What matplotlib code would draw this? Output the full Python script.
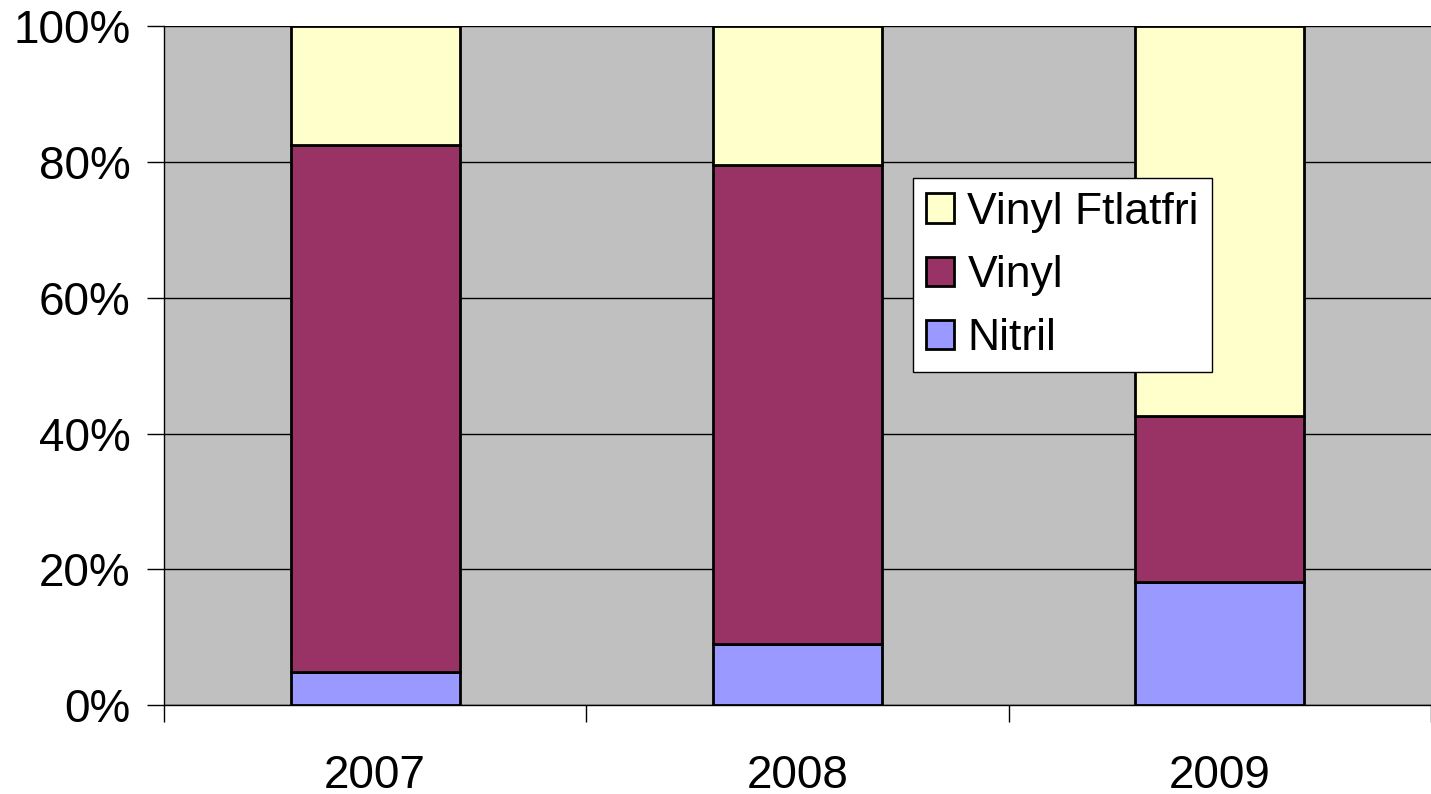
import numpy as np
from matplotlib import pyplot as plt

years = ['2007', '2008', '2009']
nitril = [4.9, 9.0, 18.2]
vinyl = [77.6, 70.5, 24.4]
ftlatfri = [17.5, 20.5, 57.4]

plt.rcParams['font.family'] = ['Liberation Sans', 'DejaVu Sans']

fig = plt.figure(figsize=[14.31, 7.94], dpi=100)
ax = fig.add_axes([0.1146, 0.112, 0.8854, 0.855])
ax.set_facecolor('#C0C0C0')

x = np.arange(len(years))
w = 0.4
ax.bar(x, nitril, w, color='#9999FF', edgecolor='black', linewidth=2, label='Nitril', zorder=3)
ax.bar(x, vinyl, w, bottom=nitril, color='#993366', edgecolor='black', linewidth=2, label='Vinyl', zorder=3)
bottom2 = [a + b for a, b in zip(nitril, vinyl)]
ax.bar(x, ftlatfri, w, bottom=bottom2, color='#FFFFCC', edgecolor='black', linewidth=2, label='Vinyl Ftlatfri', zorder=3)

ax.set_xlim(-0.5, 2.5)
ax.set_ylim(0, 100)
ax.set_yticks([0, 20, 40, 60, 80, 100])
ax.set_yticklabels([f'{v}%' for v in range(0, 101, 20)], fontsize=33)
ax.yaxis.grid(True, color='black', linewidth=1, zorder=0)
ax.set_axisbelow(True)

ax.set_xticks([-0.5, 0.5, 1.5, 2.5])
ax.set_xticklabels([])
ax.set_xticks(x, minor=True)
ax.set_xticklabels(years, minor=True, fontsize=33)
ax.tick_params(axis='x', which='major', direction='out', length=12, width=1)
ax.tick_params(axis='x', which='minor', length=0, pad=35)
ax.tick_params(axis='y', direction='out', length=12, width=1, pad=12)

for s in ['top', 'right']:
    ax.spines[s].set_visible(False)
ax.spines['left'].set_linewidth(1)
ax.spines['bottom'].set_linewidth(1)

handles, labels = ax.get_legend_handles_labels()
leg = ax.legend(handles[::-1], labels[::-1], loc='upper left', bbox_to_anchor=(0.591, 0.776),
                fontsize=32, frameon=True, fancybox=False, handlelength=0.63, handleheight=0.63,
                handletextpad=0.3, labelspacing=0.5, borderpad=0.3, borderaxespad=0)
leg.get_frame().set_edgecolor('black')
leg.get_frame().set_linewidth(1)
leg.get_frame().set_alpha(1)
leg.set_zorder(5)

plt.savefig('out.png')
